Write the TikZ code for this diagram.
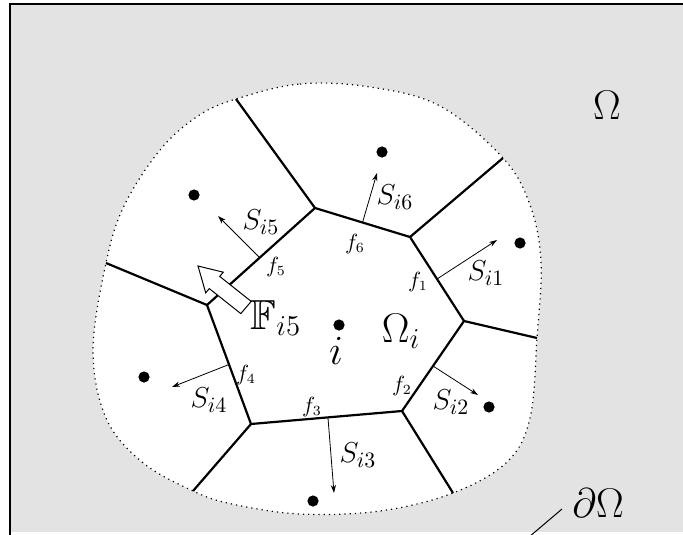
\documentclass[tikz,border=0pt]{standalone}
\usepackage{amsmath,amssymb}
\usetikzlibrary{arrows.meta}
\definecolor{bggray}{RGB}{227,227,227}
\begin{document}
\begin{tikzpicture}[x=0.5pt,y=-0.5pt,
  vedge/.style={line width=1.1pt},
  normalvec/.style={line width=0.4pt,-{Stealth[length=4pt,width=2.6pt]}},
  site/.style={circle,fill=black,inner sep=0pt,minimum size=5.6pt},
  lbl/.style={inner sep=0pt},
  slbl/.style={inner sep=0pt,font=\fontsize{15}{17}\selectfont},
  flbl/.style={inner sep=0pt,font=\fontsize{10.5}{12}\selectfont},
  biglbl/.style={inner sep=0pt,font=\fontsize{20}{22}\selectfont}]
\useasboundingbox (0,0) rectangle (683,534);
\clip (0,0) rectangle (683,534);
% background domain
\fill[bggray] (10,4) rectangle (700,532);
\draw[line width=1pt] (10,540) -- (10,4) -- (700,4);
% sub-domain with dotted boundary
\draw[fill=white,dotted,line width=0.6pt] plot[smooth cycle,tension=0.6] coordinates {
 (236,99) (300,84) (370,87) (440,106) (503,158) (530,205) (541,262) (537,338)
 (530,418) (507,462) (453,493) (380,511) (300,514) (232,504) (193,491) (142,462)
 (106,418) (93,350) (106,263) (124,206) (160,150) (198,116)};
% Voronoi vertices
\coordinate (v1) at (315,208);
\coordinate (v2) at (410,237);
\coordinate (v3) at (464,321);
\coordinate (v4) at (402,411);
\coordinate (v5) at (251,424);
\coordinate (v6) at (207,305);
\coordinate (b1) at (236,99);
\coordinate (b2) at (503,158);
\coordinate (b3) at (537,338);
\coordinate (b4) at (453,493);
\coordinate (b5) at (193,491);
\coordinate (b6) at (106,263);
\draw[vedge,line join=round] (v1) -- (v2) -- (v3) -- (v4) -- (v5) -- (v6) -- cycle;
\draw[vedge] (v1) -- (b1);
\draw[vedge] (v2) -- (b2);
\draw[vedge] (v3) -- (b3);
\draw[vedge] (v4) -- (b4);
\draw[vedge] (v5) -- (b5);
\draw[vedge] (v6) -- (b6);
% sites
\node[site] (si) at (339,325) {};
\node[site] (s6) at (382,152) {};
\node[site] (s5) at (194,195) {};
\node[site] (s1) at (520,243) {};
\node[site] (s2) at (489,407) {};
\node[site] (s3) at (313,501) {};
\node[site] (s4) at (144,377) {};
% normal vectors
\coordinate (m6) at (362.5,222.5); \coordinate (e6) at (377,173);
\coordinate (m1) at (437,279);     \coordinate (e1) at (497,240);
\coordinate (m2) at (433,366);     \coordinate (e2) at (478,395);
\coordinate (m3) at (328,418);     \coordinate (e3) at (334,493);
\coordinate (m4) at (229,364.5);   \coordinate (e4) at (172,387);
\coordinate (m5) at (259,257);     \coordinate (e5) at (218,216);
\draw[normalvec] (m6) -- (e6);
\draw[normalvec] (m1) -- (e1);
\draw[normalvec] (m2) -- (e2);
\draw[normalvec] (m3) -- (e3);
\draw[normalvec] (m4) -- (e4);
\draw[normalvec] (m5) -- (e5);
% labels
\node[slbl] (ls6) at (395,197) {$S_{i6}$};
\node[slbl] (ls5) at (261,222) {$S_{i5}$};
\node[slbl] (ls1) at (486,273) {$S_{i1}$};
\node[slbl] (ls2) at (451,402) {$S_{i2}$};
\node[slbl] (ls3) at (358,455) {$S_{i3}$};
\node[slbl] (ls4) at (209,400) {$S_{i4}$};
\node[flbl] (lf1) at (418,282) {$f_1$};
\node[flbl] (lf2) at (402,386) {$f_2$};
\node[flbl] (lf3) at (312,407) {$f_3$};
\node[flbl] (lf4) at (246,375) {$f_4$};
\node[flbl] (lf5) at (276,267) {$f_5$};
\node[flbl] (lf6) at (355,244) {$f_6$};
\node[biglbl] (li) at (336,351) {$i$};
\node[biglbl] (lOi) at (401,331) {$\Omega_i$};
\node[biglbl] (lO) at (607,105) {$\Omega$};
\node[biglbl] (ldO) at (598,503) {$\partial\Omega$};
\coordinate (dOend) at (529,537);
\draw[line width=0.5pt] (562,509) -- (dOend);
% flux arrow
\draw[fill=white,line width=0.5pt,line join=miter]
  (251.2,301.4) -- (219.7,276.4) -- (223.3,272.2) -- (198,266)
  -- (205.7,292.8) -- (209.3,288.6) -- (240.8,313.6) -- cycle;
\node[lbl,font=\fontsize{21}{23}\selectfont] (lF) at (276,318) {$\mathbb{F}_{i5}$};
\end{tikzpicture}
\end{document}
